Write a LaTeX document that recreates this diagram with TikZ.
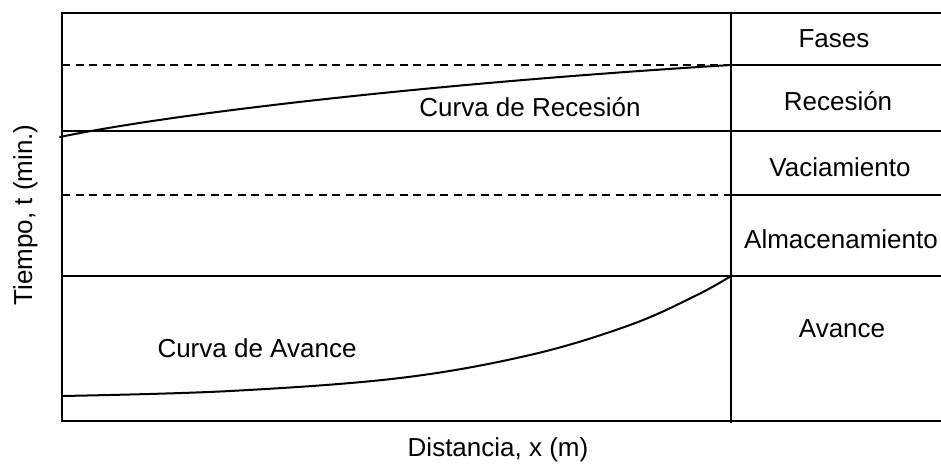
\documentclass[tikz,border=0pt]{standalone}
\usepackage{fontspec}
\setmainfont{Liberation Sans}
\usetikzlibrary{positioning}

\begin{document}
\begin{tikzpicture}[
    x=1pt, y=-1pt,
    every node/.style={font=\fontsize{26}{30}\selectfont, inner sep=0pt, anchor=base},
    rule/.style={line width=2pt},
    guide/.style={line width=1.8pt, dash pattern=on 8pt off 5.5pt},
    curve/.style={line width=2pt, line cap=round}
  ]
    \useasboundingbox (0,0) rectangle (941,463);
    \draw[rule] (941,13) -- (62,13) -- (62,421) -- (941,421);
    \draw[rule] (731,13) -- (731,423);
    \draw[rule] (731,65) -- (941,65);
    \draw[rule] (62,131) -- (941,131);
    \draw[rule] (731,195) -- (941,195);
    \draw[rule] (62,276) -- (941,276);
    \draw[guide] (62,65) -- (731,65);
    \draw[guide] (62,195) -- (731,195);
    \draw[curve] (60,137) .. controls (180,112) and (450,82) .. (731,65);
    \draw[curve] plot[smooth, tension=0.6] coordinates {(62,396) (230,391) (400,378) (530,355) (630,325) (697,295) (731,276)};
    \node (fases) at (834,47) {Fases};
    \node (recesion) at (838,110) {Recesión};
    \node (vaciamiento) at (840,176) {Vaciamiento};
    \node (almacenamiento) at (841,248) {Almacenamiento};
    \node (avance) at (842,337) {Avance};
    \node (crecesion) at (530,116) {Curva de Recesión};
    \node (cavance) at (257,357) {Curva de Avance};
    \node (xlabel) at (498,456) {Distancia, x (m)};
    \node[rotate=90] (ylabel) at (32,215) {Tiempo, t (min.)};
  \end{tikzpicture}
\end{document}
